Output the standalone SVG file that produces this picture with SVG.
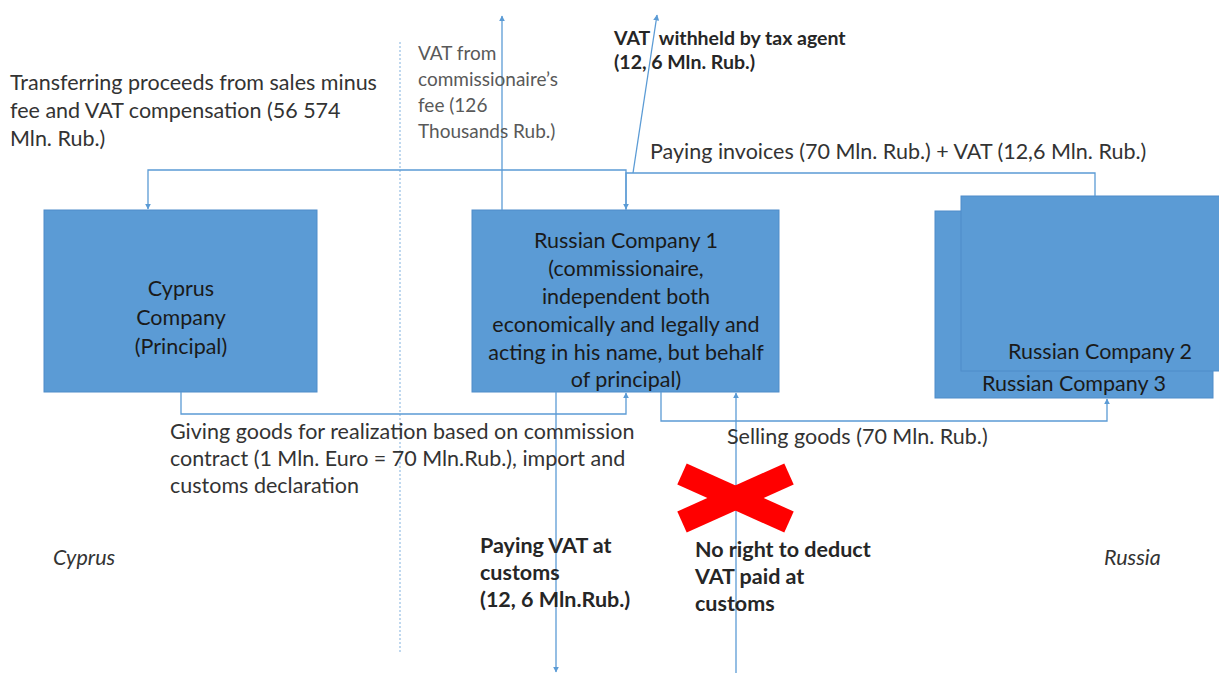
<svg xmlns="http://www.w3.org/2000/svg" width="1219" height="673" viewBox="0 0 1219 673">
<style>
.box{fill:#5B9BD5;stroke:#4F8CC9;stroke-width:1}
.bt{font-family:Lato,"Liberation Sans",sans-serif;font-size:21.5px;fill:#1a1a1a;text-anchor:middle}
.lbl{font-family:Lato,"Liberation Sans",sans-serif;font-size:21.5px;fill:#333}
.sm{font-family:Lato,"Liberation Sans",sans-serif;font-size:19px;fill:#595959}
.bd{font-family:Lato,"Liberation Sans",sans-serif;font-size:21.5px;font-weight:bold;fill:#262626}
.bds{font-family:Lato,"Liberation Sans",sans-serif;font-size:19.5px;font-weight:bold;fill:#262626}
.it{font-family:Lato,"Liberation Sans",sans-serif;font-size:21.5px;font-style:italic;fill:#333}
.c{fill:none;stroke:#5B9BD5;stroke-width:1.3}
</style>
<defs>
<marker id="ah" viewBox="0 0 10 10" refX="9" refY="5" markerWidth="6" markerHeight="6" orient="auto" markerUnits="userSpaceOnUse">
<path d="M0,0 L10,5 L0,10 z" fill="#5B9BD5"/>
</marker>
</defs>
<rect width="1219" height="673" fill="#fff"/>
<line x1="400" y1="42" x2="400" y2="652" stroke="#9DC3E6" stroke-width="1.3" stroke-dasharray="2,2"/>
<g id="cyprus">
<rect class="box" x="44" y="210" width="273" height="182"/>
<text class="bt" x="181" y="296">Cyprus</text>
<text class="bt" x="181" y="325">Company</text>
<text class="bt" x="181" y="354">(Principal)</text>
</g>
<g id="rc1">
<rect class="box" x="472" y="210" width="307" height="182"/>
<text class="bt" x="626" y="248">Russian Company 1</text>
<text class="bt" x="626" y="276">(commissionaire,</text>
<text class="bt" x="626" y="304">independent both</text>
<text class="bt" x="626" y="332">economically and legally and</text>
<text class="bt" x="626" y="360">acting in his name, but behalf</text>
<text class="bt" x="626" y="387">of principal)</text>
</g>
<g id="rc3">
<rect class="box" x="935" y="211" width="278" height="187"/>
<text class="bt" x="1074" y="391">Russian Company 3</text>
</g>
<g id="rc2">
<rect class="box" x="961" y="196" width="262" height="175"/>
<text class="bt" x="1100" y="359">Russian Company 2</text>
</g>
<g id="connectors">
<polyline class="c" points="626,210 626,170 148,170 148,209" marker-end="url(#ah)"/>
<polyline class="c" points="1095,196 1095,173 626,173 626,209" marker-end="url(#ah)"/>
<line class="c" x1="633" y1="173" x2="657" y2="15" marker-end="url(#ah)"/>
<line class="c" x1="502" y1="210" x2="502" y2="16" marker-end="url(#ah)"/>
<polyline class="c" points="181,392 181,414 626,414 626,393" marker-end="url(#ah)"/>
<polyline class="c" points="661,392 661,421 1107,421 1107,399" marker-end="url(#ah)"/>
<line class="c" x1="556" y1="392" x2="556" y2="672" marker-end="url(#ah)"/>
<line class="c" x1="736" y1="673" x2="736" y2="393" marker-end="url(#ah)"/>
</g>
<g id="redx">
<line x1="682" y1="474" x2="789" y2="522" stroke="#FF0000" stroke-width="23"/>
<line x1="682" y1="522" x2="789" y2="474" stroke="#FF0000" stroke-width="23"/>
</g>
<g id="labels">
<text class="lbl" x="10" y="90">Transferring proceeds from sales minus</text>
<text class="lbl" x="10" y="118">fee and VAT compensation (56 574</text>
<text class="lbl" x="10" y="146">Mln. Rub.)</text>
<text class="sm" x="418" y="60">VAT from</text>
<text class="sm" x="418" y="86">commissionaire’s</text>
<text class="sm" x="418" y="112">fee (126</text>
<text class="sm" x="418" y="138">Thousands Rub.)</text>
<text class="bds" x="614" y="45">VAT&#160; withheld by tax agent</text>
<text class="bds" x="614" y="69">(12, 6 Mln. Rub.)</text>
<text class="lbl" x="650" y="159">Paying invoices (70 Mln. Rub.) + VAT (12,6 Mln. Rub.)</text>
<text class="lbl" x="170" y="439">Giving goods for realization based on commission</text>
<text class="lbl" x="170" y="466">contract (1 Mln. Euro = 70 Mln.Rub.), import and</text>
<text class="lbl" x="170" y="493">customs declaration</text>
<text class="lbl" x="727" y="444">Selling goods (70 Mln. Rub.)</text>
<text class="bd" x="480" y="553">Paying VAT at</text>
<text class="bd" x="480" y="580">customs</text>
<text class="bd" x="480" y="607">(12, 6 Mln.Rub.)</text>
<text class="bd" x="695" y="557">No right to deduct</text>
<text class="bd" x="695" y="584">VAT paid at</text>
<text class="bd" x="695" y="611">customs</text>
<text class="it" x="53" y="565">Cyprus</text>
<text class="it" x="1104" y="565">Russia</text>
</g>
</svg>
